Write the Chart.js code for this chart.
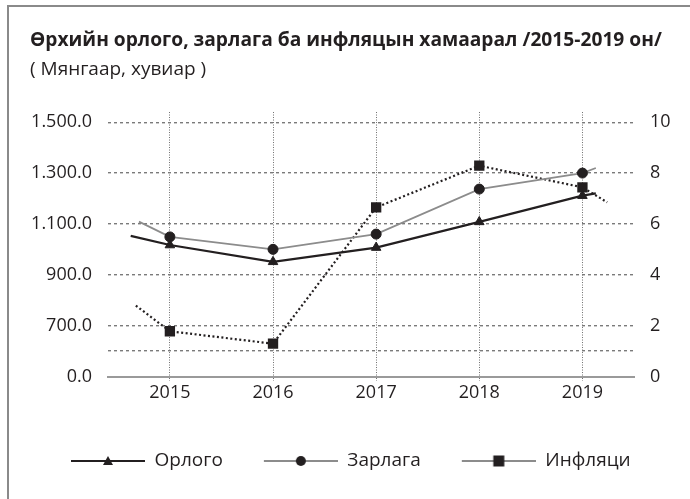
<!DOCTYPE html>
<html><head><meta charset="utf-8">
<script src="https://cdn.jsdelivr.net/npm/chart.js@4.4.1/dist/chart.umd.min.js"></script>
<style>html,body{margin:0;padding:0;background:#fff}#wrap{width:690px;height:499px;position:relative}</style>
</head><body><div id="wrap"><canvas id="c"></canvas></div>
<script>
// ---- data ----
const titleText = 'Өрхийн орлого, зарлага ба инфляцын хамаарал /2015-2019 он/';
const subtitleText = '( Мянгаар, хувиар )';
const seriesNames = ['Орлого', 'Зарлага', 'Инфляци'];
const years = [2015, 2016, 2017, 2018, 2019];
const orlogo = [1017, 951, 1007, 1108, 1211];      // left axis
const zarlaga = [1049, 1000, 1060, 1237, 1300];    // left axis
const inflyatsi = [1.78, 1.29, 6.65, 8.29, 7.44];  // right axis, %
// line stubs visible beyond the first / last marker: [x, value]
const orlogoTails = [[2014.62, 1053], [2019.13, 1220]];
const zarlagaTails = [[2014.70, 1109], [2019.13, 1320]];
const inflyatsiTails = [[2014.67, 2.79], [2019.24, 6.85]];
// axis ticks (left axis is broken: bottom reads 0.0)
const leftTickValues = [500, 600, 700, 900, 1100, 1300, 1500];
const leftTickLabels = ['0.0', '', '700.0', '900.0', '1.100.0', '1.300.0', '1.500.0'];
const rightTickValues = [0, 2, 4, 6, 8, 10];

const INK = '#231f20';
const GRAY = '#8c8c8c';
const FONT = '"Open Sans", "Noto Sans", sans-serif';

function build(vals, tails) {
  return [{x: tails[0][0], y: tails[0][1], m: false}]
    .concat(years.map((yr, i) => ({x: yr, y: vals[i], m: true})))
    .concat([{x: tails[1][0], y: tails[1][1], m: false}]);
}

const LEG_W = 105, LEG_GAP = 31;
function legendImage(lineColor, marker) {
  const cv = document.createElement('canvas');
  cv.width = LEG_W; cv.height = 14;
  const g = cv.getContext('2d');
  g.strokeStyle = lineColor; g.lineWidth = 2;
  g.beginPath(); g.moveTo(LEG_GAP, 7); g.lineTo(LEG_W, 7); g.stroke();
  g.fillStyle = INK;
  const cx = LEG_GAP + (LEG_W - LEG_GAP) / 2, cy = 7;
  g.beginPath();
  if (marker === 'triangle') { g.moveTo(cx, cy - 5); g.lineTo(cx + 5, cy + 4); g.lineTo(cx - 5, cy + 4); g.closePath(); }
  else if (marker === 'circle') { g.arc(cx, cy, 5, 0, Math.PI * 2); }
  else { g.rect(cx - 5.5, cy - 5.5, 11, 11); }
  g.fill();
  return cv;
}
const legendImgs = [legendImage(INK, 'triangle'), legendImage(GRAY, 'circle'), legendImage(GRAY, 'rect')];

const isMarker = c => c.raw && c.raw.m;

const framePlugin = {
  id: 'frame',
  beforeDraw(chart) {
    const ctx = chart.ctx;
    ctx.save();
    ctx.strokeStyle = '#8a8a8a'; ctx.lineWidth = 2;
    ctx.beginPath(); ctx.moveTo(8, 499); ctx.lineTo(8, 6); ctx.lineTo(690, 6); ctx.stroke();
    ctx.restore();
  }
};

new Chart(document.getElementById('c'), {
  type: 'line',
  data: {
    datasets: [
      {
        label: seriesNames[0], data: build(orlogo, orlogoTails), yAxisID: 'y',
        borderColor: INK, borderWidth: 2.2, pointStyle: 'triangle',
        pointRadius: c => isMarker(c) ? 5.5 : 0, pointBackgroundColor: INK, pointBorderColor: INK, pointBorderWidth: 1
      },
      {
        label: seriesNames[1], data: build(zarlaga, zarlagaTails), yAxisID: 'y',
        borderColor: GRAY, borderWidth: 1.8, pointStyle: 'circle',
        pointRadius: c => isMarker(c) ? 5 : 0, pointBackgroundColor: INK, pointBorderColor: INK, pointBorderWidth: 1
      },
      {
        label: seriesNames[2], data: build(inflyatsi, inflyatsiTails), yAxisID: 'y2',
        borderColor: INK, borderWidth: 2.2, borderDash: [2, 2.5], pointStyle: 'rect',
        pointRadius: c => isMarker(c) ? 7.3 : 0, pointBackgroundColor: INK, pointBorderColor: INK, pointBorderWidth: 0
      }
    ]
  },
  options: {
    responsive: true, maintainAspectRatio: false, animation: false, devicePixelRatio: 1,
    layout: {padding: {left: 30, right: 0, top: 0, bottom: 18.5}},
    scales: {
      x: {
        type: 'linear', min: 2014.4, max: 2019.5,
        afterBuildTicks: s => { s.ticks = years.map(v => ({value: v})); },
        afterFit: s => { s.height = 65; },
        ticks: {callback: v => String(v), color: INK, font: {family: FONT, size: 18}, padding: 2, maxRotation: 0},
        grid: {color: '#6f6f6f', lineWidth: 1, tickLength: 4, tickColor: '#6f6f6f', tickBorderDash: [1, 1]},
        border: {display: true, color: '#9a9a9a', width: 2, dash: [1, 1.5]}
      },
      y: {
        position: 'left', min: 500, max: 1540,
        afterBuildTicks: s => { s.ticks = leftTickValues.map(v => ({value: v})); },
        afterFit: s => { s.width = 78; },
        ticks: {callback: (v, i) => leftTickLabels[i], color: INK, font: {family: FONT, size: 18}, padding: 16},
        grid: {color: c => (c.tick && c.tick.value === 500) ? 'rgba(0,0,0,0)' : '#7a7a7a', lineWidth: 1.4, drawTicks: false},
        border: {display: false, dash: [3, 3]}
      },
      y2: {
        position: 'right', min: 0, max: 10.4,
        afterBuildTicks: s => { s.ticks = rightTickValues.map(v => ({value: v})); },
        afterFit: s => { s.width = 56; },
        ticks: {callback: v => String(v), color: INK, font: {family: FONT, size: 18}, padding: 16},
        grid: {display: false, drawTicks: false},
        border: {display: false}
      }
    },
    plugins: {
      tooltip: {enabled: false},
      title: {
        display: true, text: titleText, align: 'start', color: INK,
        font: {family: FONT, size: 19.2, weight: 'bold'}, padding: {top: 29, bottom: 0}
      },
      subtitle: {
        display: true, text: subtitleText, align: 'start', color: INK,
        font: {family: FONT, size: 19, weight: 'normal'}, padding: {top: 6.6, bottom: 30.6}
      },
      legend: {
        position: 'bottom', align: 'start',
        labels: {
          usePointStyle: true, pointStyleWidth: LEG_W, padding: 10, color: INK,
          font: {family: FONT, size: 19},
          generateLabels: chart => chart.data.datasets.map((d, i) => ({
            text: d.label, pointStyle: legendImgs[i], datasetIndex: i, fontColor: INK,
            fillStyle: INK, strokeStyle: INK, lineWidth: 0, hidden: false
          }))
        }
      }
    }
  },
  plugins: [framePlugin]
});
</script>
</body></html>
